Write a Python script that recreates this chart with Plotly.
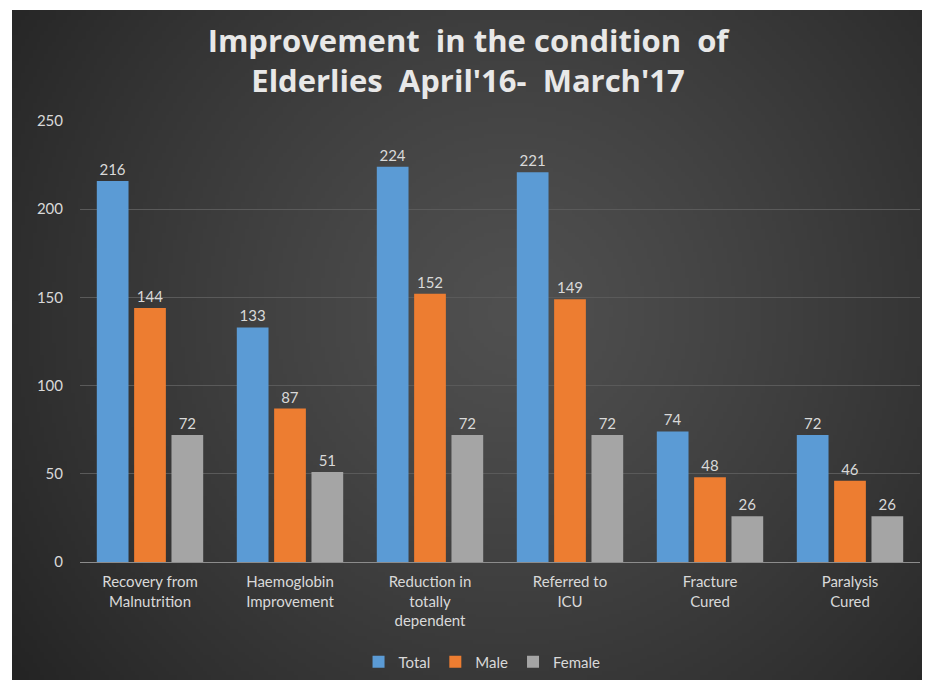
import base64
import struct
import zlib

import numpy as np
import plotly.graph_objects as go

# ---- data ----
categories = [
    "Recovery from<br>Malnutrition",
    "Haemoglobin<br>Improvement",
    "Reduction in<br>totally<br>dependent",
    "Referred to<br>ICU",
    "Fracture<br>Cured",
    "Paralysis<br>Cured",
]
total = [216, 133, 224, 221, 74, 72]
male = [144, 87, 152, 149, 48, 46]
female = [72, 51, 72, 72, 26, 26]
y_ticks = [0, 50, 100, 150, 200, 250]

title_text = "Improvement  in the condition  of<br>Elderlies  April'16-  March'17"


# ---- radial backdrop rendered to a small PNG ----
def radial_png(w, h, inner, outer, cx=0.55, cy=0.45):
    yy, xx = np.mgrid[0:h, 0:w]
    dx = (xx / (w - 1) - cx) * (w / h)
    dy = yy / (h - 1) - cy
    r = np.sqrt(dx * dx + dy * dy)
    t = np.clip(r / r.max(), 0, 1) ** 1.2
    inner = np.array(inner, float)
    outer = np.array(outer, float)
    img = (inner[None, None, :] * (1 - t[..., None]) + outer[None, None, :] * t[..., None]).astype(np.uint8)
    raw = b"".join(b"\x00" + img[row].tobytes() for row in range(h))

    def chunk(tag, data):
        c = struct.pack(">I", len(data)) + tag + data
        return c + struct.pack(">I", zlib.crc32(tag + data) & 0xFFFFFFFF)

    png = b"\x89PNG\r\n\x1a\n"
    png += chunk(b"IHDR", struct.pack(">IIBBBBB", w, h, 8, 2, 0, 0, 0))
    png += chunk(b"IDAT", zlib.compress(raw, 9))
    png += chunk(b"IEND", b"")
    return "data:image/png;base64," + base64.b64encode(png).decode()


bg_src = radial_png(240, 176, (80, 80, 80), (36, 36, 36))

W, H = 936, 683
ml, mr, mt, mb = 80, 16, 121, 121
pw, ph = W - ml - mr, H - mt - mb


def px_to_paper_x(px):
    return (px - ml) / pw


def px_to_paper_y(py):
    return (H - mb - py) / ph


label_color = "#d9d9d9"
font_family = "Lato, 'Liberation Sans', sans-serif"
title_family = "'Open Sans', Lato, sans-serif"

fig = go.Figure()
series = [
    ("Total", total, "#5b9bd5"),
    ("Male", male, "#ed7d31"),
    ("Female", female, "#a5a5a5"),
]
for name, vals, color in series:
    fig.add_trace(
        go.Bar(
            name=name,
            x=categories,
            y=vals,
            marker=dict(color=color, line=dict(width=0)),
            text=[str(v) for v in vals],
            textposition="outside",
            cliponaxis=False,
            textfont=dict(color=label_color, size=15, family=font_family),
        )
    )

x0, x1 = px_to_paper_x(12), px_to_paper_x(922)
y0, y1 = px_to_paper_y(680), px_to_paper_y(10)
fig.add_layout_image(
    dict(
        source=bg_src,
        xref="paper",
        yref="paper",
        x=x0,
        y=y1,
        sizex=x1 - x0,
        sizey=y1 - y0,
        xanchor="left",
        yanchor="top",
        sizing="stretch",
        layer="below",
    )
)

fig.update_layout(
    width=W,
    height=H,
    margin=dict(l=ml, r=mr, t=mt, b=mb, autoexpand=False),
    paper_bgcolor="white",
    plot_bgcolor="rgba(0,0,0,0)",
    barmode="group",
    bargap=0.2,
    bargroupgap=0.15,
    title=dict(
        text=title_text,
        x=0.5,
        xref="container",
        xanchor="center",
        y=1 - 52 / H,
        yref="container",
        yanchor="middle",
        font=dict(family=title_family, size=31, color="#e8e8e8", weight="bold"),
    ),
    font=dict(family=font_family, color=label_color, size=15),
    legend=dict(
        orientation="h",
        x=0.515,
        xref="container",
        xanchor="center",
        y=1 - 662 / H,
        yref="container",
        yanchor="middle",
        font=dict(size=15, color=label_color),
        bgcolor="rgba(0,0,0,0)",
        itemwidth=30,
    ),
    xaxis=dict(
        showgrid=False,
        showline=True,
        linecolor="#8c8c8c",
        linewidth=1,
        ticks="",
        automargin=False,
        ticklabelstandoff=6,
        tickfont=dict(size=15, color=label_color),
        tickangle=0,
    ),
    yaxis=dict(
        range=[0, 250],
        tickvals=y_ticks,
        showgrid=True,
        gridcolor="#5a5a5a",
        gridwidth=1,
        zeroline=False,
        showline=False,
        ticks="",
        automargin=False,
        ticklabelstandoff=16,
        tickfont=dict(size=15, color=label_color),
    ),
)

fig.write_html("out.html")
